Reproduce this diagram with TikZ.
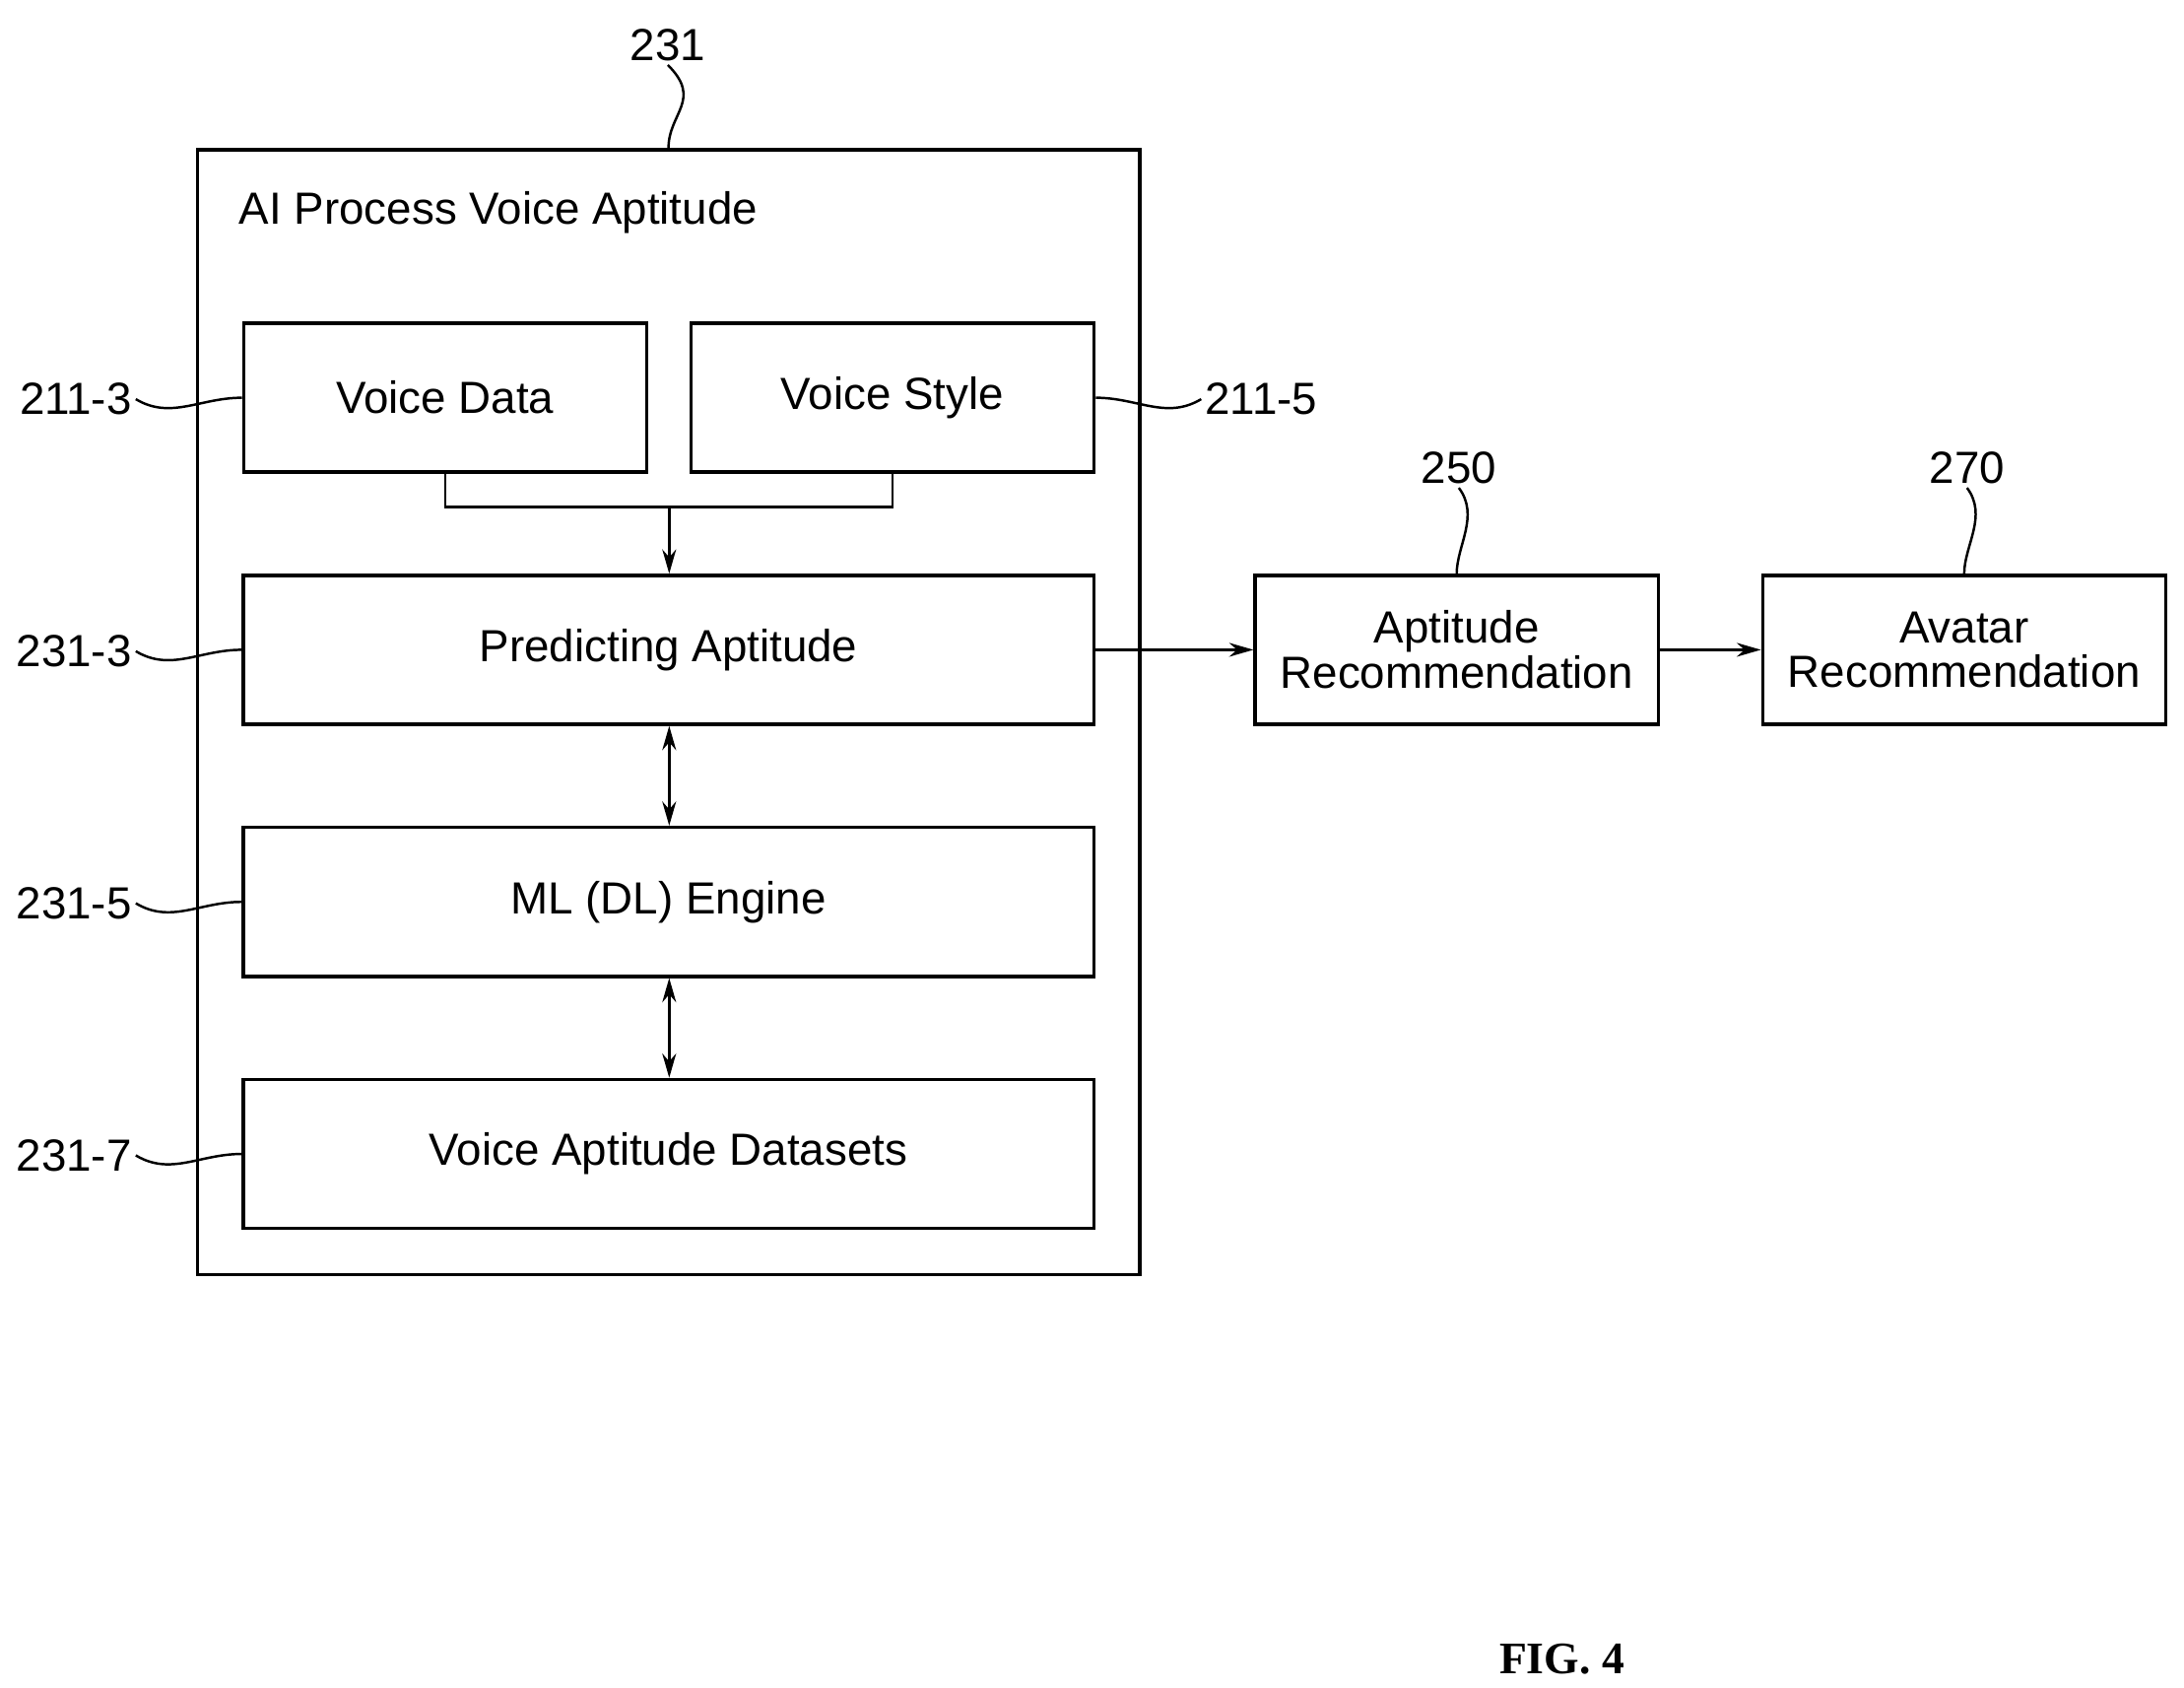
\documentclass[tikz,border=0pt]{standalone}
\usepackage{fontspec}
\setmainfont{Liberation Sans}
\newfontfamily\figfont{Liberation Serif}
\usetikzlibrary{arrows.meta, positioning}
\newcommand{\boxheight}{1.51cm}
\tikzstyle{block} = [% small block inside or outside the process
  rectangle,
  minimum width=4.09cm,
  minimum height=\boxheight,
  align=center,
  draw=black,
  line width=1pt,
  font=\fontsize{13}{15}\selectfont
  ]
\tikzstyle{wide} = [% wide block spanning the process box
  block,
  minimum width=8.63cm
  ]
\tikzstyle{ref} = [% reference numeral
  font=\fontsize{13}{15}\selectfont,
  inner sep=1pt
  ]
\tikzstyle{leader} = [% wavy leader line
  line width=0.7pt
  ]
\tikzstyle{arrow} = [% arrow format
  line width=0.7pt,
  -{Stealth[length=7pt,width=4pt]}
  ]
\begin{document}
\begin{tikzpicture}[x=0.014212cm, y=-0.014212cm]
\useasboundingbox (0,0) rectangle (1560,1205);

%%% Nodes
\node[draw, line width=1pt, minimum width=9.56cm, minimum height=11.41cm] (proc) at (477.5,508.5) {};
\node[ref, anchor=west] (title) at (168,152) {AI Process Voice Aptitude};
\node[block] (data) at (318,284) {Voice Data};
\node[block] (style) at (637.5,284) {Voice Style};
\node[wide] (predict) at (477.5,464) {Predicting Aptitude};
\node[wide] (engine) at (477.5,644) {ML (DL) Engine};
\node[wide] (sets) at (477.5,824) {Voice Aptitude Datasets};
\node[block] (aptrec) at (1040.5,464) {Aptitude\\[-2pt]Recommendation};
\node[block] (avatar) at (1403,464) {Avatar\\[-2pt]Recommendation};
\node[ref, anchor=west] (fig) at (1068,1185) {\figfont\bfseries FIG. 4};

%%% Reference numerals
\node[ref] (n231) at (477,32) {231};
\node[ref] (n250) at (1042,334) {250};
\node[ref] (n270) at (1405,334) {270};
\node[ref, anchor=east] (n2113) at (97,285) {211-3};
\node[ref, anchor=west] (n2115) at (858,285) {211-5};
\node[ref, anchor=east] (n2313) at (97,465) {231-3};
\node[ref, anchor=east] (n2315) at (97,645) {231-5};
\node[ref, anchor=east] (n2317) at (97,825) {231-7};

%%% Leaders
\draw[leader] (n231.south) .. controls +(25,25) and +(0,-25) .. (proc.north);
\draw[leader] (n250.south) .. controls +(15,20) and +(0,-20) .. (aptrec.north);
\draw[leader] (n270.south) .. controls +(15,20) and +(0,-20) .. (avatar.north);
\draw[leader] (n2113.east) .. controls +(25,15) and +(-30,0) .. (data.west);
\draw[leader] (n2115.west) .. controls +(-25,15) and +(30,0) .. (style.east);
\draw[leader] (n2313.east) .. controls +(25,15) and +(-30,0) .. (predict.west);
\draw[leader] (n2315.east) .. controls +(25,15) and +(-30,0) .. (engine.west);
\draw[leader] (n2317.east) .. controls +(25,15) and +(-30,0) .. (sets.west);

%%% Connectors
\coordinate (join) at (478,362);
\draw[line width=0.7pt] (data.south) |- (join) -| (style.south);
\draw[arrow] (join) -- (join |- predict.north);
\draw[arrow, {Stealth[length=7pt,width=4pt]}-{Stealth[length=7pt,width=4pt]}] (join |- predict.south) -- (join |- engine.north);
\draw[arrow, {Stealth[length=7pt,width=4pt]}-{Stealth[length=7pt,width=4pt]}] (join |- engine.south) -- (join |- sets.north);
\draw[arrow] (predict.east) -- (aptrec.west);
\draw[arrow] (aptrec.east) -- (avatar.west);

\end{tikzpicture}
\end{document}
